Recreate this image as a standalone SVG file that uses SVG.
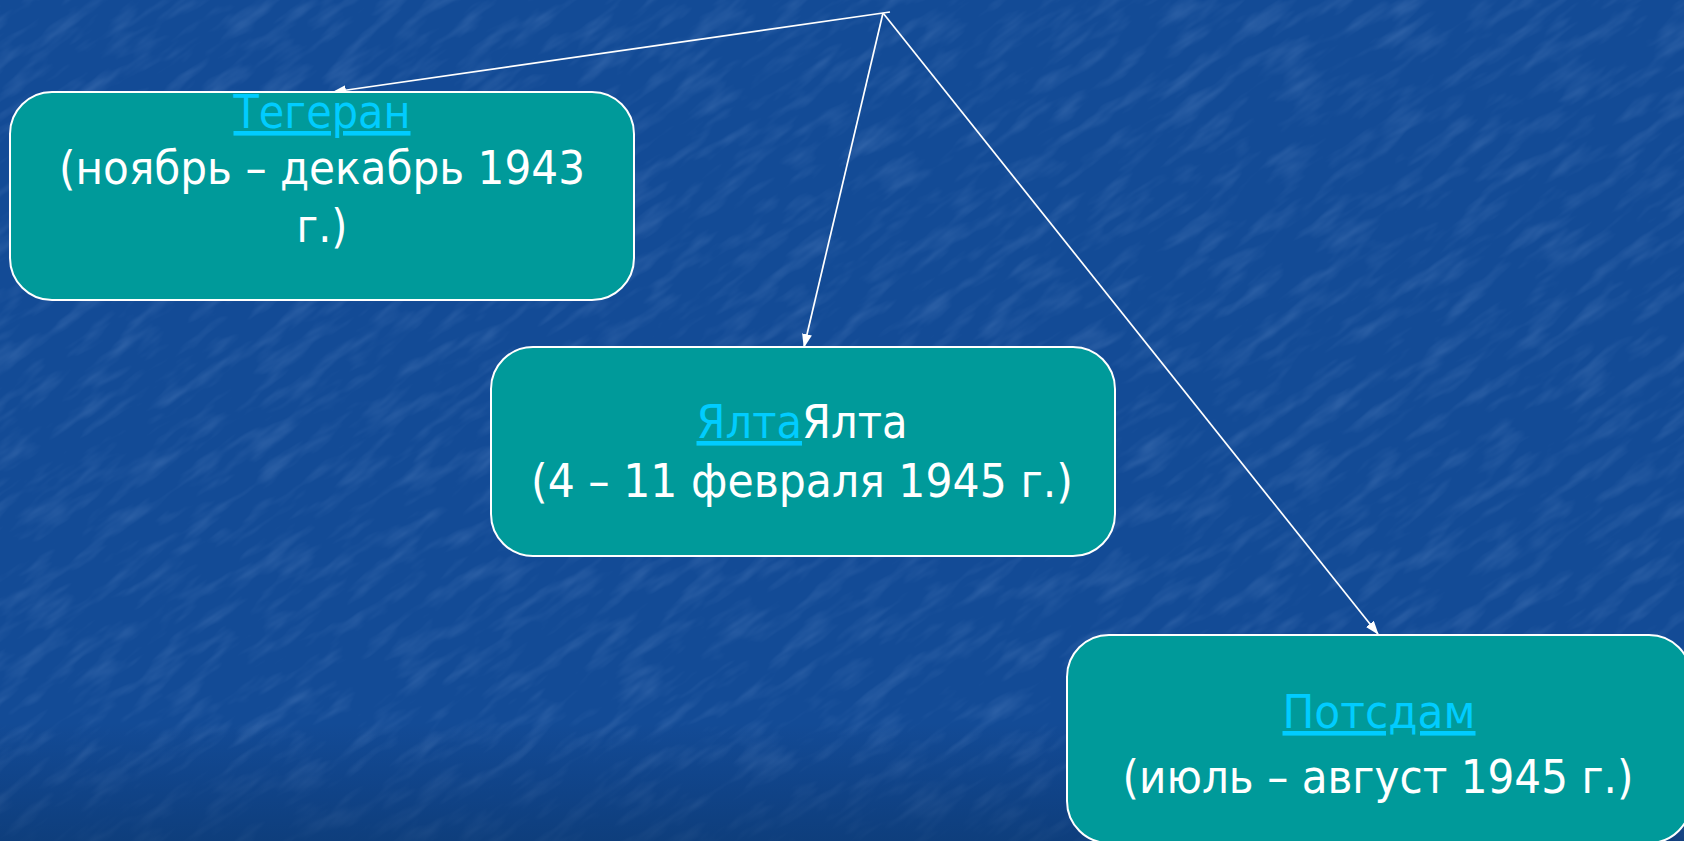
<svg xmlns="http://www.w3.org/2000/svg" width="1684" height="841" viewBox="0 0 1684 841">
<style>
.box{fill:#009a9a;stroke:#ffffff;stroke-width:2}
.t{font-family:"DejaVu Sans","Liberation Sans",sans-serif;font-size:46px;fill:#ffffff;text-anchor:middle}
.lnk{fill:#00ccff;text-decoration:underline}
.conn{stroke:#ffffff;stroke-width:1.7;fill:none}
</style>
<defs>
<marker id="ah" markerUnits="userSpaceOnUse" markerWidth="14" markerHeight="10" refX="13" refY="5" orient="auto">
<path d="M0,0 L14,5 L0,10 Z" fill="#ffffff"/>
</marker>
<filter id="tex" x="0" y="0" width="100%" height="100%">
<feTurbulence type="fractalNoise" baseFrequency="0.018 0.07" numOctaves="3" seed="7" result="n"/>
<feColorMatrix in="n" type="matrix" values="0 0 0 0 0.4  0 0 0 0 0.58  0 0 0 0 0.92  0 0 0 1.8 -0.85"/>
</filter>
<linearGradient id="bot" x1="0" y1="0" x2="0" y2="1">
<stop offset="0.86" stop-color="#0a2f66" stop-opacity="0"/>
<stop offset="1" stop-color="#0a3468" stop-opacity="0.55"/>
</linearGradient>
</defs>
<rect x="0" y="0" width="1684" height="841" fill="#134b96"/>
<g transform="rotate(-35 842 420)">
<rect x="-700" y="-700" width="3100" height="2300" filter="url(#tex)" opacity="0.2"/>
</g>
<rect x="0" y="0" width="1684" height="841" fill="url(#bot)"/>
<g id="connectors">
<line class="conn" x1="890" y1="12" x2="333" y2="92" marker-end="url(#ah)"/>
<line class="conn" x1="883" y1="13" x2="804" y2="347" marker-end="url(#ah)"/>
<line class="conn" x1="883" y1="13" x2="1378" y2="634" marker-end="url(#ah)"/>
</g>
<g id="tehran">
<rect class="box" x="10" y="92" width="624" height="208" rx="42"/>
<text class="t" x="322" y="128" textLength="177" lengthAdjust="spacingAndGlyphs"><tspan class="lnk">Тегеран</tspan></text>
<text class="t" x="322" y="184" textLength="526" lengthAdjust="spacingAndGlyphs">(ноябрь – декабрь 1943</text>
<text class="t" x="322" y="242" textLength="51" lengthAdjust="spacingAndGlyphs">г.)</text>
</g>
<g id="yalta">
<rect class="box" x="491" y="347" width="624" height="209" rx="42"/>
<text class="t" x="802" y="438" textLength="211" lengthAdjust="spacingAndGlyphs"><tspan class="lnk">Ялта</tspan>Ялта</text>
<text class="t" x="802" y="497" textLength="542" lengthAdjust="spacingAndGlyphs">(4 – 11 февраля 1945 г.)</text>
</g>
<g id="potsdam">
<rect class="box" x="1067" y="635" width="624" height="208" rx="42"/>
<text class="t" x="1379" y="728" textLength="193" lengthAdjust="spacingAndGlyphs"><tspan class="lnk">Потсдам</tspan></text>
<text class="t" x="1378" y="793" textLength="511" lengthAdjust="spacingAndGlyphs">(июль – август 1945 г.)</text>
</g>
</svg>
